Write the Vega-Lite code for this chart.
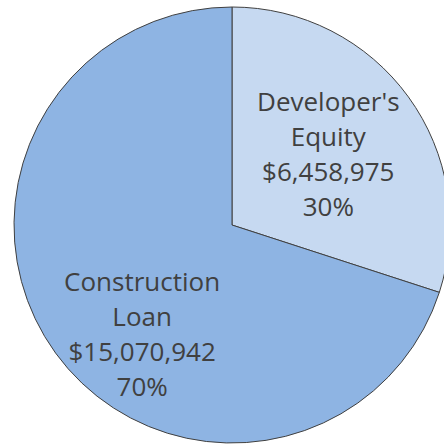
{
  "$schema": "https://vega.github.io/schema/vega-lite/v6.json",
  "width": 420,
  "height": 438,
  "autosize": "none",
  "padding": {"left": 22, "top": 6, "right": 2, "bottom": 0},
  "background": "white",
  "data": {
    "values": [
      {"k": 1, "category": "Developer's Equity", "value": 6458975, "label": "Developer's\nEquity\n$6,458,975\n30%"},
      {"k": 2, "category": "Construction Loan", "value": 15070942, "label": "Construction\nLoan\n$15,070,942\n70%"}
    ]
  },
  "layer": [
    {
      "mark": {"type": "arc", "outerRadius": 218, "stroke": "#404040", "strokeWidth": 1},
      "encoding": {
        "theta": {"field": "value", "type": "quantitative", "stack": true},
        "order": {"field": "k", "type": "quantitative"},
        "color": {
          "field": "category",
          "type": "nominal",
          "scale": {"domain": ["Developer's Equity", "Construction Loan"], "range": ["#c6d9f1", "#8eb4e3"]},
          "legend": null
        }
      }
    },
    {
      "transform": [
        {"stack": "value", "groupby": [], "sort": [{"field": "k"}], "as": ["v0", "v1"]},
        {"calculate": "(datum.v0 + datum.v1) / 2", "as": "mid"},
        {"filter": "datum.k == 1"}
      ],
      "mark": {"type": "text", "radius": 119, "dy": -52, "lineBreak": "\n", "font": "Open Sans", "fontSize": 26, "lineHeight": 35, "color": "#404040", "align": "center", "baseline": "middle"},
      "encoding": {
        "theta": {"field": "mid", "type": "quantitative", "stack": null},
        "text": {"field": "label"}
      }
    },
    {
      "transform": [
        {"stack": "value", "groupby": [], "sort": [{"field": "k"}], "as": ["v0", "v1"]},
        {"calculate": "(datum.v0 + datum.v1) / 2", "as": "mid"},
        {"filter": "datum.k == 2"}
      ],
      "mark": {"type": "text", "radius": 142, "dx": 25, "dy": -25, "lineBreak": "\n", "font": "Open Sans", "fontSize": 26, "lineHeight": 35, "color": "#404040", "align": "center", "baseline": "middle"},
      "encoding": {
        "theta": {"field": "mid", "type": "quantitative", "stack": null},
        "text": {"field": "label"}
      }
    }
  ]
}
